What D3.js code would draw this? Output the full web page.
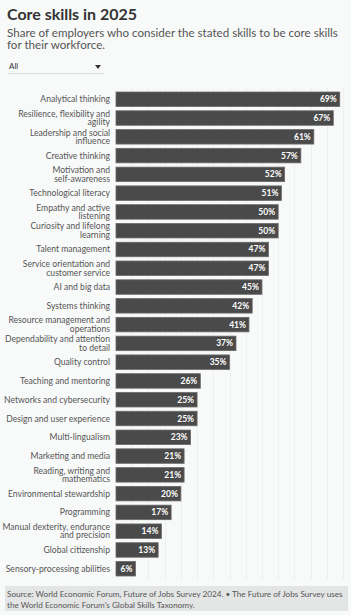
<!DOCTYPE html>
<html><head><meta charset="utf-8">
<script src="https://cdn.jsdelivr.net/npm/d3@7"></script>
<style>
html,body{margin:0;padding:0;background:#f8f9f9;}
svg{display:block;font-family:Lato,sans-serif;}
</style></head>
<body>
<svg id="c" width="351" height="615"></svg>
<script>
const categories = [
 ["Analytical thinking"],
 ["Resilience, flexibility and","agility"],
 ["Leadership and social","influence"],
 ["Creative thinking"],
 ["Motivation and","self-awareness"],
 ["Technological literacy"],
 ["Empathy and active","listening"],
 ["Curiosity and lifelong","learning"],
 ["Talent management"],
 ["Service orientation and","customer service"],
 ["AI and big data"],
 ["Systems thinking"],
 ["Resource management and","operations"],
 ["Dependability and attention","to detail"],
 ["Quality control"],
 ["Teaching and mentoring"],
 ["Networks and cybersecurity"],
 ["Design and user experience"],
 ["Multi-lingualism"],
 ["Marketing and media"],
 ["Reading, writing and","mathematics"],
 ["Environmental stewardship"],
 ["Programming"],
 ["Manual dexterity, endurance","and precision"],
 ["Global citizenship"],
 ["Sensory-processing abilities"]
];
const values = [69,67,61,57,52,51,50,50,47,47,45,42,41,37,35,26,25,25,23,21,21,20,17,14,13,6];
const gridTicks = d3.range(5, 75, 5);

const svg = d3.select("#c");
function fit(sel, w){
  const n = sel.node(); const L = n.getComputedTextLength();
  const fs = +sel.attr("font-size");
  sel.attr("font-size", (fs*w/L).toFixed(2));
  return fs*w/L;
}
const title = svg.append("text").attr("x",7).attr("y",20).attr("font-size",16).attr("font-weight",700).attr("fill","#333").text("Core skills in 2025");
fit(title,130);
const sub1 = svg.append("text").attr("x",7).attr("y",36.5).attr("font-size",12).attr("fill","#555").text("Share of employers who consider the stated skills to be core skills");
const sfs = fit(sub1,331);
svg.append("text").attr("x",7).attr("y",48.5).attr("font-size",sfs.toFixed(2)).attr("fill","#555").text("for their workforce.");

// dropdown
svg.append("text").attr("x",9).attr("y",69).attr("font-size",8).attr("fill","#333").text("All");
svg.append("path").attr("d","M95,65 L101,65 L98,69 Z").attr("fill","#333");
svg.append("line").attr("x1",8).attr("x2",104).attr("y1",73.5).attr("y2",73.5).attr("stroke","#ddd").attr("stroke-width",1);

const x = d3.scaleLinear().domain([0,70]).range([116,343]);
const idx = d3.range(values.length);
const y = d3.scaleBand().domain(idx).range([92,576]).paddingInner(0.228).paddingOuter(0);

const g = svg.append("g");
g.selectAll("line.grid").data(gridTicks).join("line")
 .attr("x1",d=>Math.round(x(d))+0.5).attr("x2",d=>Math.round(x(d))+0.5)
 .attr("y1",88).attr("y2",580).attr("stroke","#eeefef").attr("stroke-width",1);

g.selectAll("rect.bar").data(idx).join("rect")
 .attr("x",x(0)).attr("y",i=>y(i)).attr("width",i=>x(values[i])-x(0)).attr("height",y.bandwidth())
 .attr("fill","#4a4a4a").attr("stroke","#6a6a6a").attr("stroke-width",0.8);

g.selectAll("text.val").data(idx).join("text")
 .attr("x",i=>x(values[i])-3).attr("y",i=>y(i)+y.bandwidth()/2+3)
 .attr("text-anchor","end").attr("font-size",8.5).attr("font-weight",700).attr("fill","#fff")
 .text(i=>values[i]+"%");

const lab = g.selectAll("text.lab").data(idx).join("text")
 .attr("text-anchor","end").attr("font-size",8.6).attr("fill","#555");
lab.each(function(i){
  const t = d3.select(this);
  const lines = categories[i];
  const cy = y(i)+y.bandwidth()/2;
  const lh = 8.6;
  lines.forEach((s,k)=>{
    t.append("tspan").attr("x",110).attr("y",cy+3+(k-(lines.length-1)/2)*lh).text(s);
  });
});

// footer
svg.append("rect").attr("x",5).attr("y",586).attr("width",343).attr("height",25).attr("fill","#e4e5e5");
const f1 = svg.append("text").attr("x",7).attr("y",597).attr("font-size",8).attr("fill","#555").text("Source: World Economic Forum, Future of Jobs Survey 2024. • The Future of Jobs Survey uses");
const ffs = fit(f1,336);
svg.append("text").attr("x",7).attr("y",607.5).attr("font-size",ffs.toFixed(2)).attr("fill","#555").text("the World Economic Forum's Global Skills Taxonomy.");
</script>
</body></html>
